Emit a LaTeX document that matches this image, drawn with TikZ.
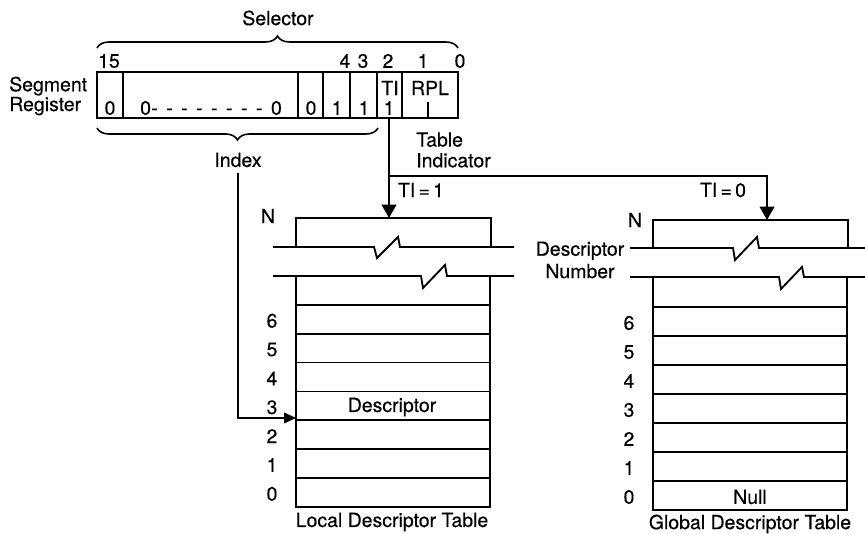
\documentclass[tikz,border=0pt]{standalone}
\usepackage{fontspec}
\setmainfont{TeX Gyre Heros}[FakeBold=0.4]
\usepackage{tikz}
\usetikzlibrary{arrows.meta}
\usetikzlibrary{backgrounds}
\usetikzlibrary{decorations.pathreplacing}
\pgfdeclarelayer{edgelayer}
\pgfdeclarelayer{nodelayer}
\pgfsetlayers{background,edgelayer,nodelayer,main}
\tikzstyle{none}=[inner sep=0mm]
\tikzstyle{wall}=[line width=1.4pt,line join=miter]
\tikzstyle{rowline}=[line width=1.3pt]
\tikzstyle{brk}=[line width=1.4pt,line join=miter]
\tikzstyle{pointer}=[line width=1.4pt,-{Triangle[length=10pt,width=11pt]}]
\tikzstyle{small pointer}=[line width=1.4pt,-{Triangle[length=9pt,width=8pt]}]
\tikzstyle{bracket}=[line width=1.2pt,decorate,decoration={brace,amplitude=9pt}]
\newcommand{\zerorun}{0\xleaders\hbox to 11pt{-\hss}\hskip 90pt 0}

\begin{document}
\begin{tikzpicture}[x=0.75pt,y=-0.75pt,font=\fontsize{14.6}{13.5}\selectfont]
	\useasboundingbox (0,0) rectangle (865,534);
	\begin{pgfonlayer}{nodelayer}
		% selector and segment register
		\node [style=none] (sel) at (278,18) {Selector};
		\node [style=none,anchor=west,align=left] (segreg) at (9,96) {Segment\\Register};
		\node [style=none] (b15) at (109,61) {15};
		\node [style=none] (b4) at (345,61) {4};
		\node [style=none] (b3) at (363,61) {3};
		\node [style=none] (b2) at (388,61) {2};
		\node [style=none] (b1) at (423,61) {1};
		\node [style=none] (b0) at (460,61) {0};
		\node [style=none] (v15) at (110,108) {0};
		\node [style=none] (vrun) at (211,108) {\zerorun};
		\node [style=none] (v5) at (311,108) {0};
		\node [style=none] (v4) at (337,108) {1};
		\node [style=none] (v3) at (364,108) {1};
		\node [style=none] (tibit) at (390,88) {TI};
		\node [style=none] (v2) at (389,108) {1};
		\node [style=none] (rpl) at (430,88) {RPL};
		\node [style=none] (index) at (238,160) {Index};
		\node [style=none,anchor=west,align=left] (tind) at (416,150) {Table\\[2pt]Indicator};
		\node [style=none] (ti1) at (421,190) {TI\,=\,1};
		\node [style=none] (ti0) at (723,190) {TI\,=\,0};
		\node [style=none,align=center] (dnum) at (580,260) {Descriptor\\[2pt]Number};
		% local table
		\node [style=none] (ldt-N) at (268,216) {N};
		\foreach \n [count=\k] in {6,5,4,3,2,1,0}
			\node [style=none] (ldt-n\n) at (272,{276+28.85*\k+14.4+1.5}) {\n};
		\node [style=none] (ldt-desc) at (392,407) {Descriptor};
		\node [style=none] (ldt-name) at (392,522) {Local Descriptor Table};
		% global table
		\node [style=none] (gdt-N) at (635,220) {N};
		\foreach \n [count=\k] in {6,5,4,3,2,1,0}
			\node [style=none] (gdt-n\n) at (629,{278+29*\k+14.5+1.5}) {\n};
		\node [style=none] (gdt-null) at (750,497) {Null};
		\node [style=none] (gdt-name) at (750,524) {Global Descriptor Table};
	\end{pgfonlayer}
	\begin{pgfonlayer}{edgelayer}
		% register cells
		\draw [style=wall] (97,72) rectangle (458,118);
		\foreach \x in {123,298,323,350,377,402}
			\draw [style=wall] (\x,72) -- (\x,118);
		\draw [line width=1.1pt] (428,102) -- (428,118);
		\draw [style=bracket] (97,48) -- (458,48);
		\draw [style=bracket] (378,128) -- (97,128);
		% local table
		\draw [style=wall] (296,247) -- (296,218) -- (491,218) -- (491,247);
		\draw [style=brk] (273,247) -- (374,247) -- (377,258) -- (398,237) -- (400,247) -- (514,247);
		\draw [style=brk] (273,276) -- (421,276) -- (423,288) -- (445,265) -- (447,276) -- (514,276);
		\draw [style=wall] (296,276) -- (296,507) -- (490,507) -- (490,276);
		\foreach \k in {1,...,7}
			\draw [style=rowline] (296,{276+28.85*\k}) -- (490,{276+28.85*\k});
		% global table
		\draw [style=wall] (653,248) -- (653,220) -- (848,220) -- (848,248);
		\draw [style=brk] (630,248) -- (733,248) -- (735,260) -- (757,237) -- (759,248) -- (865,248);
		\draw [style=brk] (630,277) -- (779,277) -- (781,289) -- (802,267) -- (804,277) -- (865,277);
		\draw [style=wall] (653,277) -- (653,510) -- (847,510) -- (847,277);
		\foreach \k in {1,...,7}
			\draw [style=rowline] (653,{278+29*\k}) -- (847,{278+29*\k});
		% pointers
		\coordinate (ti-out) at (389,118);
		\coordinate (ti-fork) at (389,176);
		\coordinate (ldt-top) at (389,218);
		\coordinate (gdt-top) at (767,220);
		\coordinate (ldt-3) at (296,418);
		\draw [style=pointer] (ti-out) to (ldt-top);
		\draw [style=pointer] (ti-fork) -| (gdt-top);
		\draw [style=small pointer] ([yshift=-4pt]index.south) |- (ldt-3);
	\end{pgfonlayer}
\end{tikzpicture}
\end{document}
